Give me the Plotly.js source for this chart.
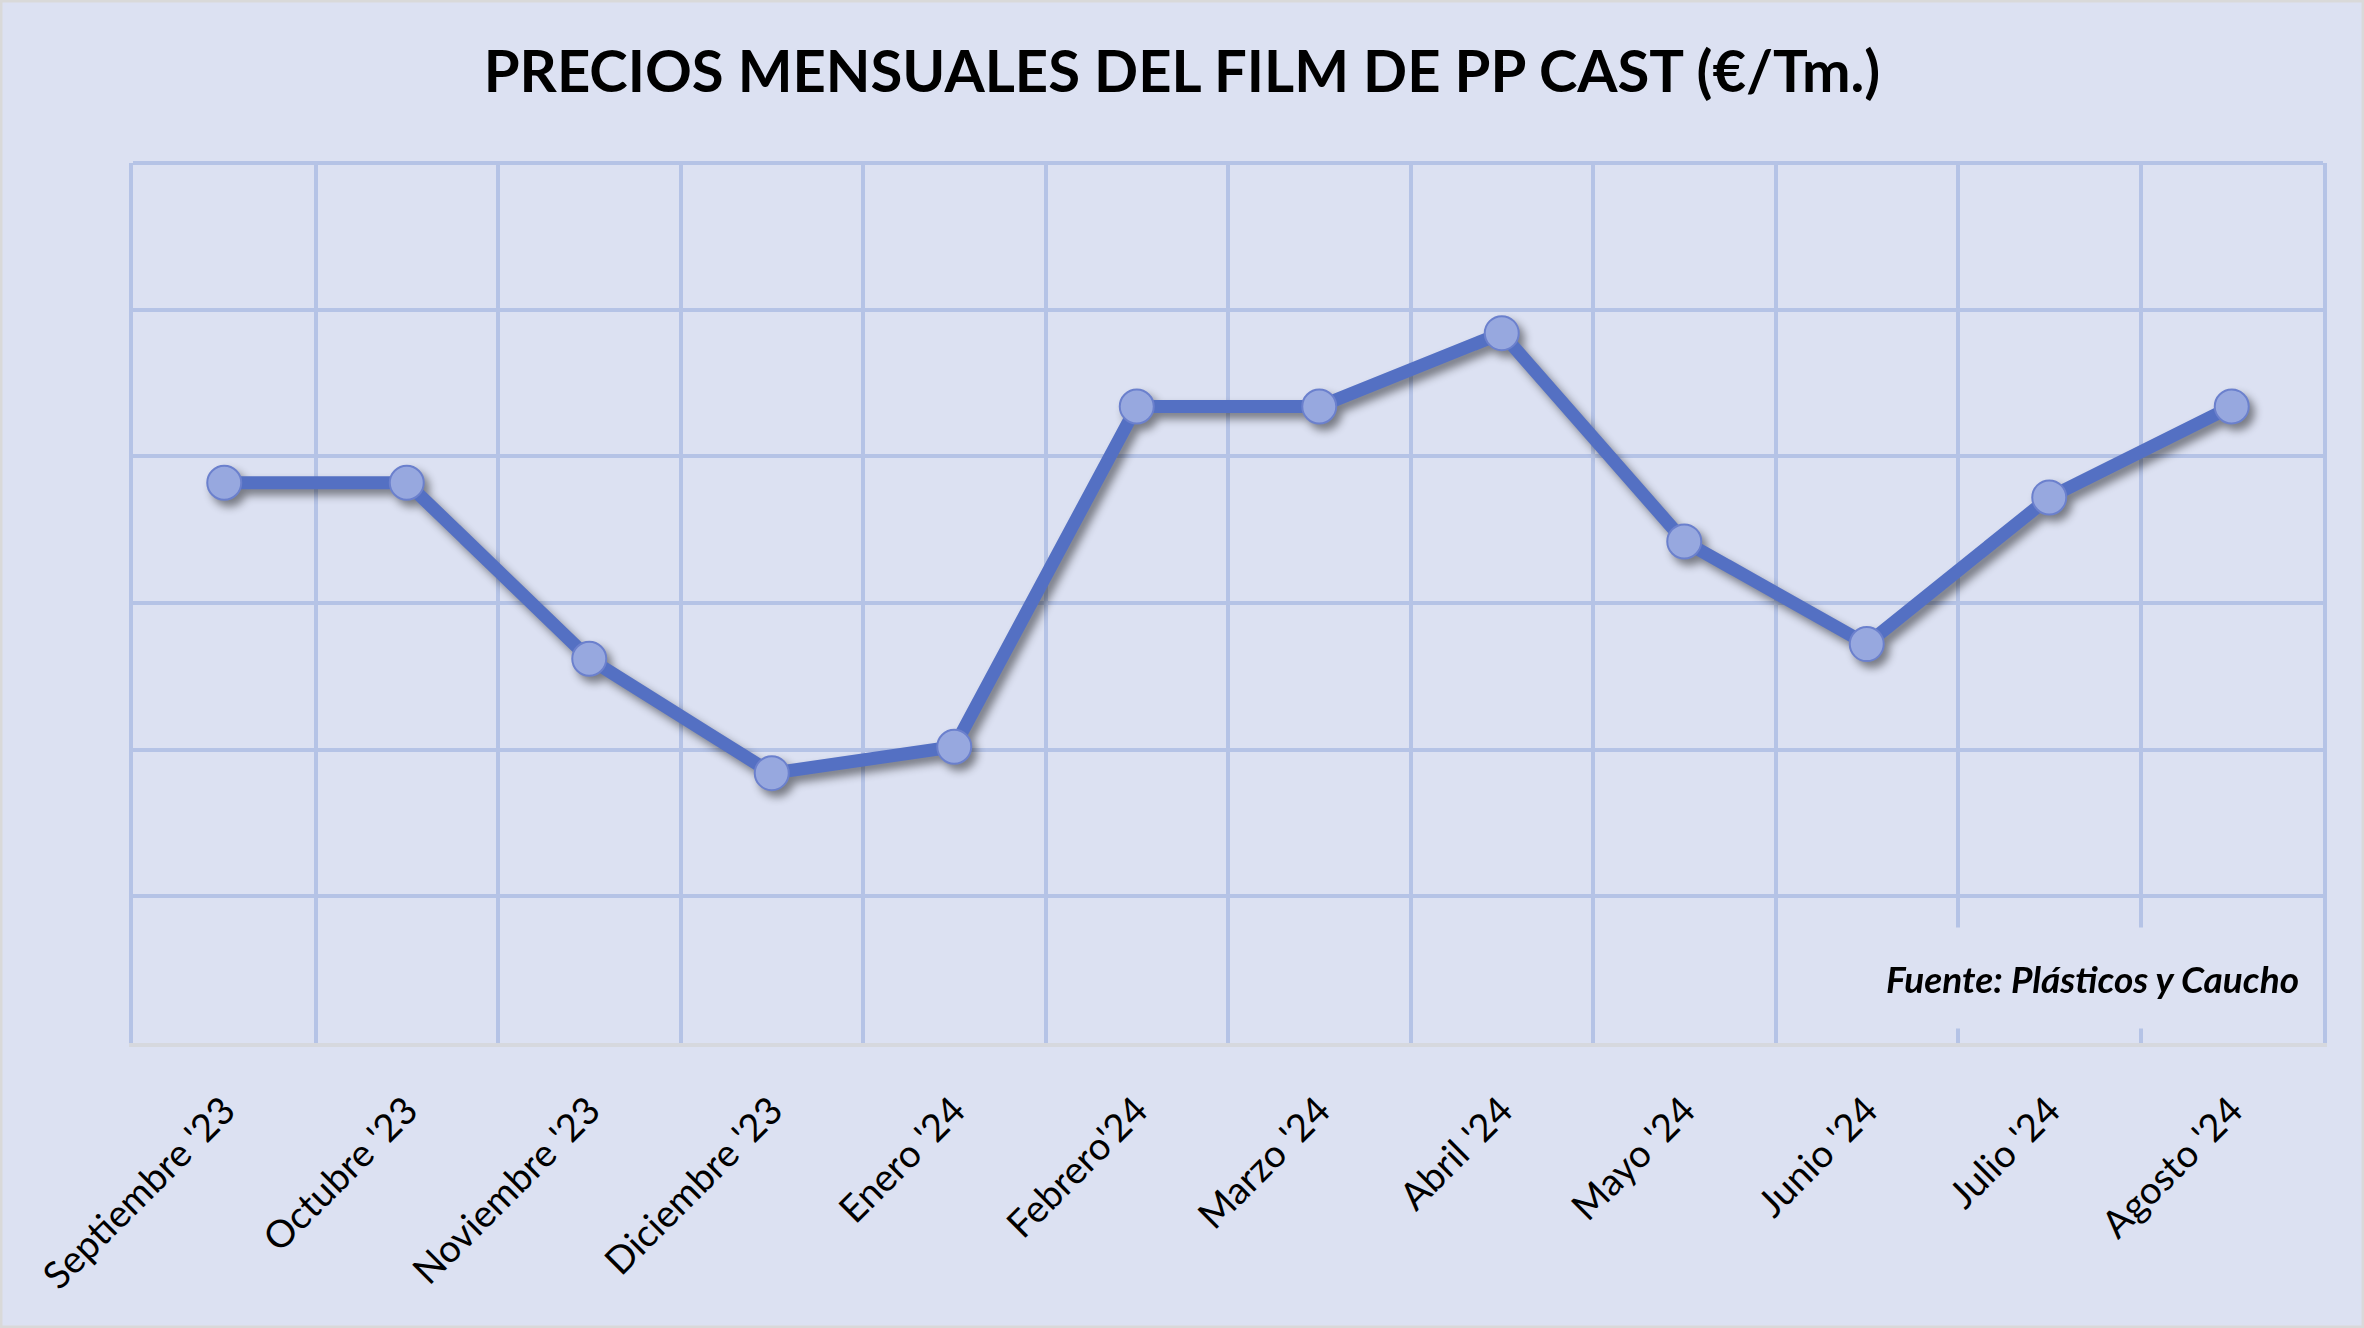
<!DOCTYPE html>
<html>
<head>
<meta charset="utf-8">
<script src="https://cdn.plot.ly/plotly-3.0.1.min.js"></script>
<style>
  html, body { margin: 0; padding: 0; background: #DCE1F2; }
  #chart { width: 2364px; height: 1328px; }
  /* soft shadow under the line and its markers, as in the original */
  #chart .scatterlayer .trace { filter: drop-shadow(5px 6px 4px rgba(0,0,0,0.45)); }
</style>
</head>
<body>
<div id="chart"></div>
<script>
var meses = ["Septiembre '23", "Octubre '23", "Noviembre '23", "Diciembre '23", "Enero '24", "Febrero'24",
             "Marzo '24", "Abril '24", "Mayo '24", "Junio '24", "Julio '24", "Agosto '24"];
// €/Tm (no axis labels shown)
var precios = [1591, 1591, 1531, 1492, 1501, 1617, 1617, 1642, 1571, 1536, 1586, 1617];

var bg = '#DCE1F2';
var grid = '#B5C3E6';

function drawChart() {
	var trace = {
		x: meses,
		y: precios,
		type: 'scatter',
		mode: 'lines+markers',
		line: { color: '#5470C3', width: 13 },
		marker: { size: 34, color: '#97A8DF', line: { color: '#6B80CD', width: 2 } },
		hoverinfo: 'skip'
	};

	var layout = {
		width: 2364,
		height: 1328,
		paper_bgcolor: bg,
		plot_bgcolor: bg,
		showlegend: false,
		margin: { l: 133, r: 41, t: 163, b: 285 },
		font: { family: 'Lato, "Open Sans", sans-serif', color: '#000' },
		title: {
			text: '<b>PRECIOS MENSUALES DEL FILM DE PP CAST (€/Tm.)</b>',
			font: { size: 58, family: 'Lato, sans-serif', color: '#000' },
			x: 0.5, xanchor: 'center',
			y: 1 - 72 / 1328, yanchor: 'middle'
		},
		xaxis: {
			type: 'category',
			range: [-0.5, 11.5],
			tickson: 'boundaries',
			showgrid: true,
			gridcolor: grid,
			gridwidth: 4,
			ticks: '',
			tickangle: -45,
			ticklabelstandoff: 26,
			tickfont: { size: 38, color: '#000' },
			showline: true,
			linecolor: '#D6D8DE',
			linewidth: 4,
			zeroline: false,
			fixedrange: true
		},
		yaxis: {
			range: [1400, 1700],
			dtick: 50,
			tick0: 1400,
			showgrid: true,
			gridcolor: grid,
			gridwidth: 4,
			showticklabels: false,
			ticks: '',
			showline: true,
			linecolor: grid,
			linewidth: 4,
			mirror: true,
			zeroline: false,
			fixedrange: true
		},
		annotations: [{
			xref: 'paper', yref: 'paper',
			x: 0.9915, xanchor: 'right',
			y: 0.074, yanchor: 'middle',
			text: '<b><i>Fuente: Plásticos y Caucho</i></b>',
			showarrow: false,
			font: { size: 37, color: '#000' },
			bgcolor: bg,
			height: 92,
			borderpad: 4
		}],
		shapes: [{
			// top edge of the grid
			type: 'line', xref: 'paper', yref: 'paper', layer: 'below',
			x0: 0, x1: 1, y0: 1, y1: 1,
			line: { color: grid, width: 4 }
		}, {
			// light frame round the whole chart
			type: 'rect', xref: 'paper', yref: 'paper', layer: 'below',
			x0: -133 / 2190, x1: 1 + 41 / 2190, y0: -285 / 880, y1: 1 + 163 / 880,
			line: { color: '#D9D9D9', width: 5 }
		}]
	};

	Plotly.newPlot('chart', [trace], layout, { displayModeBar: false, staticPlot: true });
}

window.onload = drawChart;
</script>
</body>
</html>
